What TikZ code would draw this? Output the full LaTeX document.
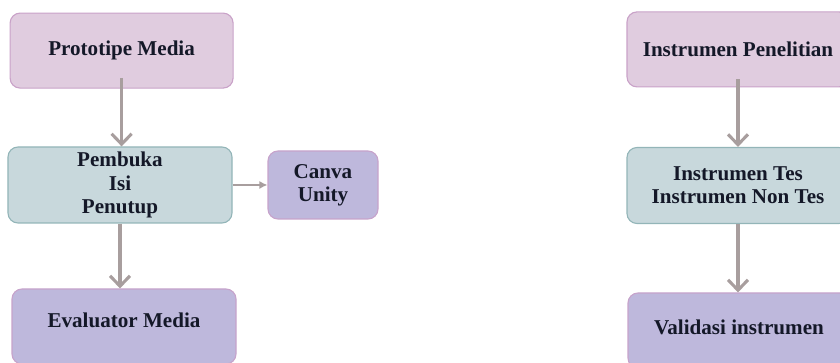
\documentclass[tikz,border=0pt]{standalone}
\usepackage{fontspec}
\setmainfont{Liberation Serif}
\usetikzlibrary{positioning,arrows.meta}
\definecolor{pinkfill}{HTML}{E0CCDF}
\definecolor{pinkline}{HTML}{C9A2C8}
\definecolor{tealfill}{HTML}{C8D8DC}
\definecolor{tealline}{HTML}{93B5B8}
\definecolor{lilacfill}{HTML}{BEB8DC}
\definecolor{lilacline}{HTML}{C7A3CB}
\definecolor{arrowgray}{HTML}{A89E9E}
\definecolor{inkblue}{HTML}{141828}
\tikzset{
    box/.style={rectangle, rounded corners=0.25cm, line width=0.8pt, align=center,
                text=inkblue, font=\fontsize{15}{16.6}\selectfont\bfseries, inner sep=2pt},
    pinkbox/.style={box, fill=pinkfill, draw=pinkline, minimum width=5.575cm, minimum height=1.875cm},
    tealbox/.style={box, fill=tealfill, draw=tealline, minimum width=5.6cm, minimum height=1.9cm},
    lilacbox/.style={box, fill=lilacfill, draw=lilacline, minimum width=5.6cm, minimum height=1.875cm},
    flow/.style={draw=arrowgray, line width=2.2pt, -{Straight Barb[length=2.6mm,width=5mm]}},
    link/.style={draw=arrowgray, line width=1pt, -{Latex[length=2mm,width=2mm]}}
}
\begin{document}
\begin{tikzpicture}
    \useasboundingbox (0,0) rectangle (21,9.075);
    \clip (0,0) rectangle (21,9.075);

    % left column
    \node[pinkbox] (proto) at (3.04,7.81) {Prototipe Media};
    \node[tealbox] (isi) at (3.0,4.45) {Pembuka\\Isi\\Penutup};
    \node[lilacbox, minimum width=2.75cm, minimum height=1.7cm] (canva) at (8.075,4.45) {Canva\\Unity};
    \node[lilacbox, text depth=0.3cm] (eval) at (3.1,0.9125) {Evaluator Media};

    % right column
    \node[pinkbox, minimum width=5.55cm] (inpen) at (18.45,7.84) {Instrumen Penelitian};
    \node[tealbox, minimum width=5.55cm] (tes) at (18.45,4.4375) {Instrumen Tes\\Instrumen Non Tes};
    \node[lilacbox, minimum width=5.55cm, text depth=0.175cm] (valid) at (18.475,0.8125) {Validasi instrumen};

    % arrows
    \draw[flow] ([yshift=0.27cm]proto.south) -- (proto |- isi.north);
    \draw[flow] (isi) -- (isi |- eval.north);
    \draw[link] (isi.east) -- (canva.west);
    \draw[flow] ([yshift=0.2cm]inpen.south) -- (inpen |- tes.north);
    \draw[flow] (tes) -- (tes |- valid.north);
\end{tikzpicture}
\end{document}
